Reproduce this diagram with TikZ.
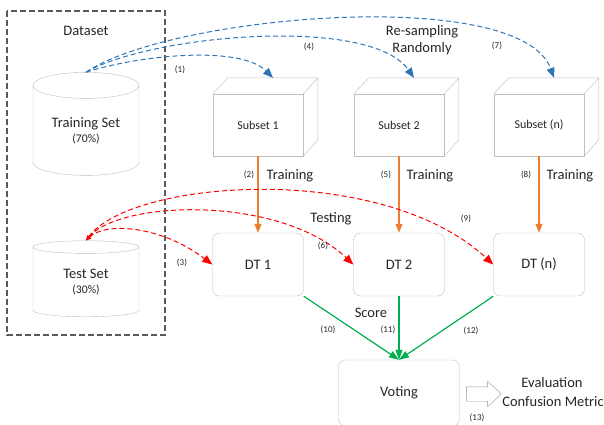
\documentclass[tikz,border=0pt]{standalone}
\usepackage{fontspec}
\setmainfont{Carlito}
\usetikzlibrary{shapes.geometric,shapes.arrows}
\usetikzlibrary{arrows.meta}
\definecolor{boxgray}{HTML}{BFBFBF}
\definecolor{framegray}{HTML}{595959}
\definecolor{sampleblue}{HTML}{2E75B6}
\definecolor{trainorange}{HTML}{ED7D31}
\definecolor{scoregreen}{HTML}{00B050}

\begin{document}
\begin{tikzpicture}[%
  x=1pt, y=-1pt,
  font=\fontsize{14.5}{16}\selectfont, text=black!85,
  store/.style={cylinder, shape border rotate=90, draw=boxgray,
    minimum width=106pt, align=center, inner sep=0pt},
  subset/.style={draw=boxgray, fill=white, minimum width=90pt, minimum height=62pt,
    font=\fontsize{12}{14}\selectfont},
  tree/.style={draw=boxgray, rounded corners=7pt, minimum width=91pt, minimum height=63pt},
  annot/.style={inner sep=1pt},
  num/.style={font=\fontsize{9}{10}\selectfont, inner sep=1pt},
  resample/.style={->, >={Triangle[length=10pt,width=8pt]}, draw=sampleblue,
    line width=1pt, dash pattern=on 5pt off 3pt},
  testing/.style={{Triangle[length=5pt,width=4pt]}->, >={Triangle[length=10pt,width=8pt]},
    draw=red, line width=1pt, dash pattern=on 5pt off 3pt},
  training/.style={->, >={Triangle[length=9pt,width=7pt]}, draw=trainorange, line width=1.2pt},
  score/.style={->, >={Triangle[length=10pt,width=7pt]}, draw=scoregreen, line width=1.2pt}
  ]
  \useasboundingbox (0,0) rectangle (604,424);

  % The dataset frame with its two parts
  \draw[framegray, line width=1.2pt, dash pattern=on 6pt off 3pt] (7,11) rectangle (165,335);
  \node[annot] (ds) at (86,31) {Dataset};
  \node[store, aspect=0.38, minimum height=103pt] (train) at (86,130.5)
    {Training Set\\[-1pt]{\fontsize{11.7}{14}\selectfont (70\%)}};
  \node[store, aspect=0.28, minimum height=76pt] (test) at (86,282)
    {Test Set\\[-1pt]{\fontsize{11.7}{14}\selectfont (30\%)}};

  % Draw the subsets (boxes with depth) and the trees under them
  \foreach \i/\xs/\lab/\dt in {1/258/Subset 1/DT 1, 2/399/Subset 2/DT 2, 3/539/Subset (n)/DT (n)}
  {
    \node[subset] (S-\i) at (\xs,125) {\lab};
    \draw[boxgray] (S-\i.north west) -- ++(15,-16) -- ++(90,0) -- ++(0,62) -- (S-\i.south east)
      (S-\i.north east) -- ++(15,-16);
    \path (S-\i.north) ++(15,-16) coordinate (S-\i-in);
    \node[tree] (T-\i) at (\xs,264.5) {\dt};
    \draw[training] (S-\i) -- (T-\i);
  }

  \node[tree, minimum width=121pt, minimum height=66pt] (vote) at (399,393) {Voting};
  \node[single arrow, draw=boxgray!80!black, fill=white, minimum height=35pt,
    single arrow head extend=5.5pt, single arrow tip angle=85,
    inner xsep=0pt, inner ysep=7pt] (ev-arrow) at (480,394) {};
  \node[annot] (ev) at (552,383) {Evaluation};
  \node[annot] (cm) at (553,402) {Confusion Metric};

  % Re-sampling from the training set
  \draw[resample] (train.north) .. controls (140,55) and (240,45) .. (S-1-in);
  \draw[resample] (train.north) .. controls (150,35) and (370,15) .. (S-2-in);
  \draw[resample] (train.north) .. controls (170,15) and (520,-15) .. (S-3-in);
  \node[annot] (rs) at (422,32) {Re-sampling};
  \node[annot] (rr) at (422,49) {Randomly};

  % Testing with the test set
  \draw[testing] (test.north) .. controls (105,222) and (160,225) .. (T-1.west);
  \draw[testing] (test.north) .. controls (120,200) and (280,195) .. (T-2.west);
  \draw[testing] (test.north) .. controls (130,180) and (380,160) .. (T-3.west);
  \node[annot] (tst) at (331,219) {Testing};

  % Scores go to the vote
  \draw[score] (T-1.south east) -- (vote.north);
  \draw[score] (T-2) -- (vote);
  \draw[score] (T-3.south west) -- (vote.north);
  \node[annot] (sc) at (371,313) {Score};

  % Step numbers
  \foreach \k/\pos in {1/{(180,70)}, 2/{(249,175)}, 3/{(182,263)}, 4/{(309,47)}, 5/{(386,175)},
    6/{(323,246)}, 7/{(497,46)}, 8/{(526,175)}, 9/{(466,219)}, 10/{(328,330)},
    11/{(388,330)}, 12/{(471,331)}, 13/{(477,418)}}
  \node[num] (n-\k) at \pos {(\k)};

  \foreach \xs/\i in {290/1, 430/2, 570/3}
  \node[annot] (tr-\i) at (\xs,176) {Training};
\end{tikzpicture}
\end{document}
